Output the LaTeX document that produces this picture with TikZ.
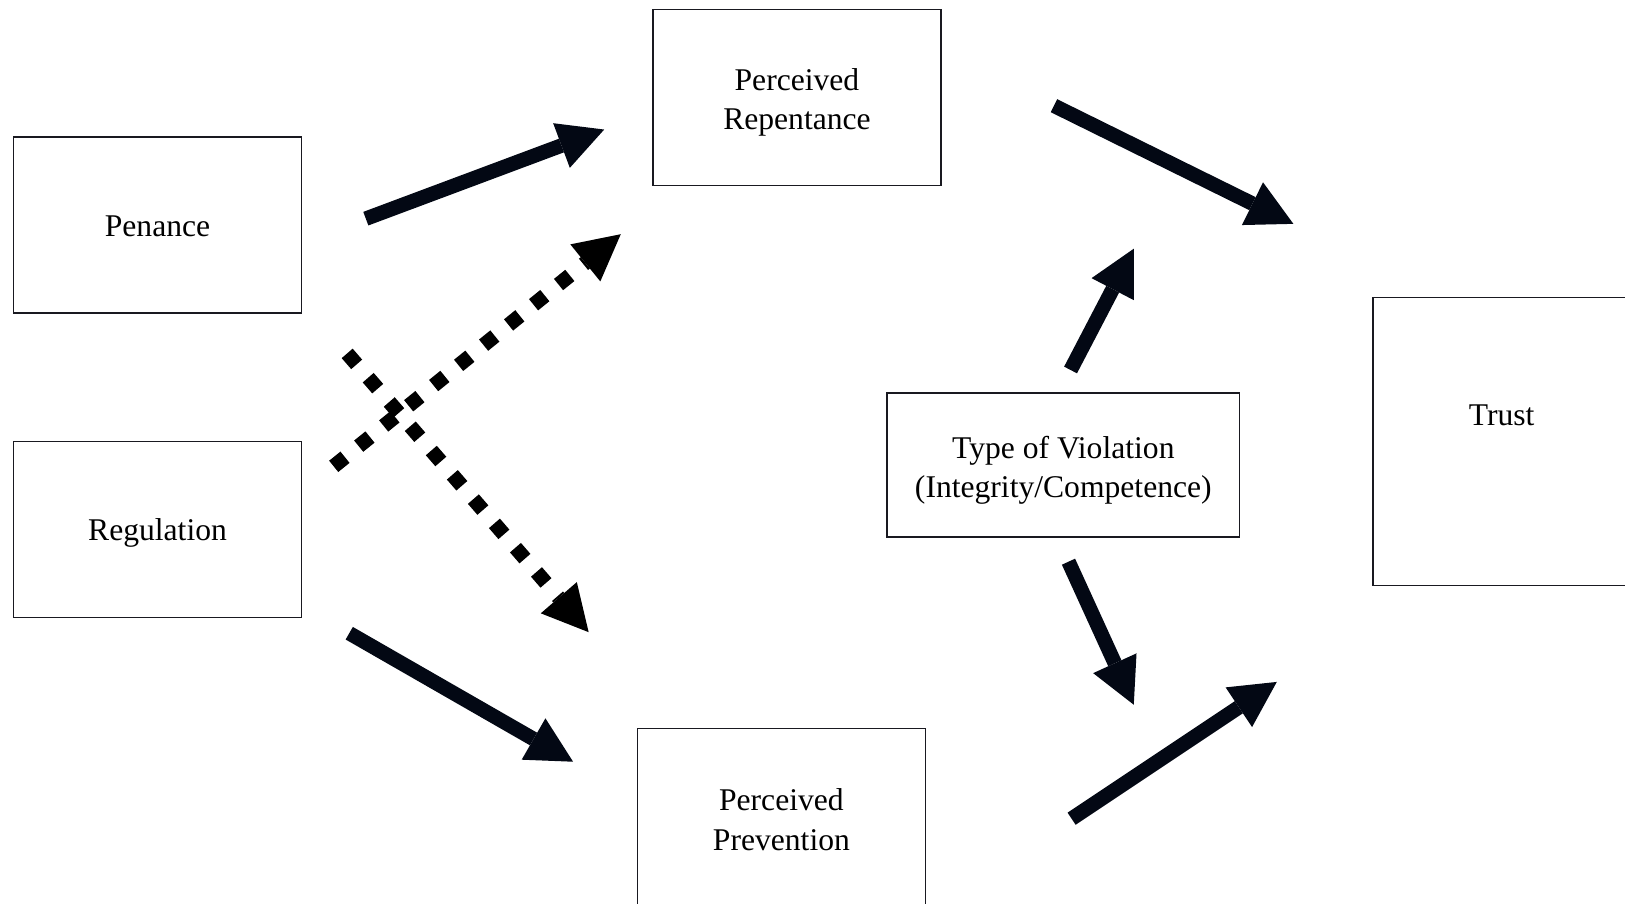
\documentclass[tikz,border=0pt]{standalone}
\usepackage{fontspec}
\setmainfont{Liberation Serif}
\usetikzlibrary{arrows.meta}
\definecolor{arrowc}{RGB}{3,8,20}
\definecolor{boxc}{RGB}{25,25,32}
\begin{document}
\begin{tikzpicture}[x=1pt,y=-1pt,
  box/.style={draw=boxc,line width=1.5pt,minimum width=278pt,minimum height=170pt,inner sep=0pt},
  txt/.style={inner sep=0pt,align=center,font=\fontsize{30.5}{38}\selectfont},
  solidarrow/.style={draw=arrowc,line width=14pt,-{Triangle[length=44pt,width=46pt,line width=0pt]}},
  dotarrow/.style={draw=black,line width=14pt,dash pattern=on 14pt off 17pt,-{Triangle[length=44pt,width=46pt,line width=0pt]}},
]
\useasboundingbox (0,0) rectangle (1568,872);
\clip (0,0) rectangle (1568,872);

% boxes
\node[box] (pen) at (152,217) {};
\node[txt] (pent) at (152,218) {Penance};
\node[box] (reg) at (152,511) {};
\node[txt] (regt) at (152,514) {Regulation};
\node[box] (rep) at (769,94) {};
\node[txt] (rept) at (769,99) {Perceived\\Repentance};
\node[box,minimum height=180pt] (prev) at (754,793) {};
\node[txt] (prevt) at (754,791) {Perceived\\Prevention};
\node[box,minimum width=340pt,minimum height=139pt] (vio) at (1026,448.5) {};
\node[txt] (viot) at (1026,453.5) {Type of Violation\\(Integrity/Competence)};
\node[box,minimum width=260pt,minimum height=278pt] (trust) at (1455,426) {};
\node[txt] (trustt) at (1449,401) {Trust};

% connector end points
\coordinate (a1s) at (353,211);  \coordinate (a1e) at (583,125);
\coordinate (a2s) at (322,450);  \coordinate (a2e) at (599,226);
\coordinate (a3s) at (335,341);  \coordinate (a3e) at (568,610);
\coordinate (a4s) at (337,611);  \coordinate (a4e) at (553,735);
\coordinate (a5s) at (1017,102); \coordinate (a5e) at (1248,216);
\coordinate (a6s) at (1033,357); \coordinate (a6e) at (1094,240);
\coordinate (a7s) at (1031,542); \coordinate (a7e) at (1094,680);
\coordinate (a8s) at (1034,790); \coordinate (a8e) at (1232,658);

\draw[solidarrow] (a1s) -- (a1e);
\draw[dotarrow] (a2s) -- (a2e);
\draw[dotarrow] (a3s) -- (a3e);
\draw[solidarrow] (a4s) -- (a4e);
\draw[solidarrow] (a5s) -- (a5e);
\draw[solidarrow] (a6s) -- (a6e);
\draw[solidarrow] (a7s) -- (a7e);
\draw[solidarrow] (a8s) -- (a8e);
\end{tikzpicture}
\end{document}
